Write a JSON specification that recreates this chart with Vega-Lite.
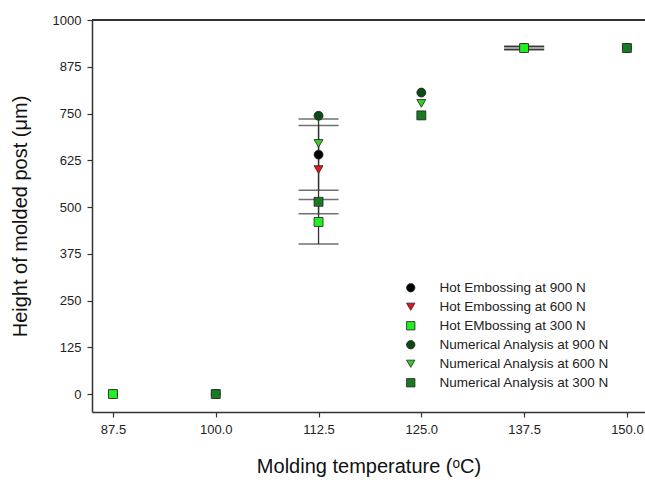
{
  "$schema": "https://vega.github.io/schema/vega-lite/v6.json",
  "width": 553,
  "height": 392,
  "autosize": "none",
  "padding": {"left": 92, "top": 20, "right": 0, "bottom": 70},
  "background": "white",
  "config": {
    "view": {"stroke": null},
    "font": "Liberation Sans",
    "axis": {"domainColor": "#333", "domainWidth": 1.5, "tickColor": "#333", "tickWidth": 1.2, "tickSize": 5, "grid": false, "labelFont": "Liberation Sans", "labelColor": "#222", "labelFontSize": 13, "titleFont": "Liberation Sans", "titleFontWeight": "normal", "titleColor": "#111", "titleFontSize": 20}
  },
  "data": {"values": [
    {"temp": 87.5, "height": 0, "series": "Hot Embossing at 900 N"},
    {"temp": 112.5, "height": 640, "series": "Hot Embossing at 900 N", "lo": 545, "hi": 735},
    {"temp": 137.5, "height": 925, "series": "Hot Embossing at 900 N", "lo": 921, "hi": 929},
    {"temp": 87.5, "height": 0, "series": "Hot Embossing at 600 N"},
    {"temp": 112.5, "height": 600, "series": "Hot Embossing at 600 N", "lo": 482, "hi": 718},
    {"temp": 137.5, "height": 925, "series": "Hot Embossing at 600 N", "lo": 921, "hi": 929},
    {"temp": 87.5, "height": 0, "series": "Hot EMbossing at 300 N"},
    {"temp": 112.5, "height": 460, "series": "Hot EMbossing at 300 N", "lo": 401, "hi": 520},
    {"temp": 137.5, "height": 925, "series": "Hot EMbossing at 300 N", "lo": 921, "hi": 929},
    {"temp": 100, "height": 0, "series": "Numerical Analysis at 900 N"},
    {"temp": 112.5, "height": 744, "series": "Numerical Analysis at 900 N"},
    {"temp": 125, "height": 806, "series": "Numerical Analysis at 900 N"},
    {"temp": 150, "height": 925, "series": "Numerical Analysis at 900 N"},
    {"temp": 100, "height": 0, "series": "Numerical Analysis at 600 N"},
    {"temp": 112.5, "height": 670, "series": "Numerical Analysis at 600 N"},
    {"temp": 125, "height": 777, "series": "Numerical Analysis at 600 N"},
    {"temp": 150, "height": 925, "series": "Numerical Analysis at 600 N"},
    {"temp": 100, "height": 0, "series": "Numerical Analysis at 300 N"},
    {"temp": 112.5, "height": 514, "series": "Numerical Analysis at 300 N"},
    {"temp": 125, "height": 745, "series": "Numerical Analysis at 300 N"},
    {"temp": 150, "height": 925, "series": "Numerical Analysis at 300 N"}
  ]},
  "layer": [
    {
      "transform": [{"filter": "datum.lo != null"}],
      "mark": {"type": "rule", "color": "#333", "strokeWidth": 1.3},
      "encoding": {
        "x": {"field": "temp", "type": "quantitative", "scale": {"domain": [84.95, 152.2], "nice": false, "zero": false}},
        "y": {"field": "lo", "type": "quantitative", "scale": {"domain": [-48, 1000], "nice": false}},
        "y2": {"field": "hi"}
      }
    },
    {
      "transform": [{"filter": "datum.lo != null"}],
      "mark": {"type": "tick", "orient": "horizontal", "color": "#333", "size": 40, "thickness": 1.5},
      "encoding": {
        "x": {"field": "temp", "type": "quantitative"},
        "y": {"field": "lo", "type": "quantitative"}
      }
    },
    {
      "transform": [{"filter": "datum.lo != null"}],
      "mark": {"type": "tick", "orient": "horizontal", "color": "#333", "size": 40, "thickness": 1.5},
      "encoding": {
        "x": {"field": "temp", "type": "quantitative"},
        "y": {"field": "hi", "type": "quantitative"}
      }
    },
    {
      "mark": {"type": "point", "filled": true, "size": 80, "stroke": "#222", "strokeWidth": 0.8, "opacity": 1},
      "encoding": {
        "x": {"field": "temp", "type": "quantitative", "title": "Molding temperature (ᵒC)",
          "axis": {"values": [87.5, 100, 112.5, 125, 137.5, 150], "format": ".1f", "labelPadding": 6, "titlePadding": 20}},
        "y": {"field": "height", "type": "quantitative", "title": "Height of molded post (μm)",
          "axis": {"values": [0, 125, 250, 375, 500, 625, 750, 875, 1000], "format": "d", "labelPadding": 6, "titlePadding": 22}},
        "color": {"field": "series", "type": "nominal",
          "scale": {"domain": ["Hot Embossing at 900 N", "Hot Embossing at 600 N", "Hot EMbossing at 300 N", "Numerical Analysis at 900 N", "Numerical Analysis at 600 N", "Numerical Analysis at 300 N"],
            "range": ["#000000", "#e8141c", "#22ee22", "#0d4a12", "#33cc22", "#1a7a22"]},
          "legend": {"orient": "none", "legendX": 312, "legendY": 261, "title": null, "labelFontSize": 13.5, "labelColor": "#222", "labelFont": "Liberation Sans", "labelLimit": 0, "rowPadding": 4, "symbolSize": 70, "symbolStrokeColor": "#222", "symbolStrokeWidth": 0.8, "labelOffset": 22, "symbolOpacity": 1}},
        "shape": {"field": "series", "type": "nominal",
          "scale": {"domain": ["Hot Embossing at 900 N", "Hot Embossing at 600 N", "Hot EMbossing at 300 N", "Numerical Analysis at 900 N", "Numerical Analysis at 600 N", "Numerical Analysis at 300 N"],
            "range": ["circle", "triangle-down", "square", "circle", "triangle-down", "square"]}}
      }
    },
    {
      "mark": {"type": "rule", "color": "#333", "strokeWidth": 1.5},
      "encoding": {
        "y": {"datum": 1000, "type": "quantitative"}
      }
    }
  ]
}
